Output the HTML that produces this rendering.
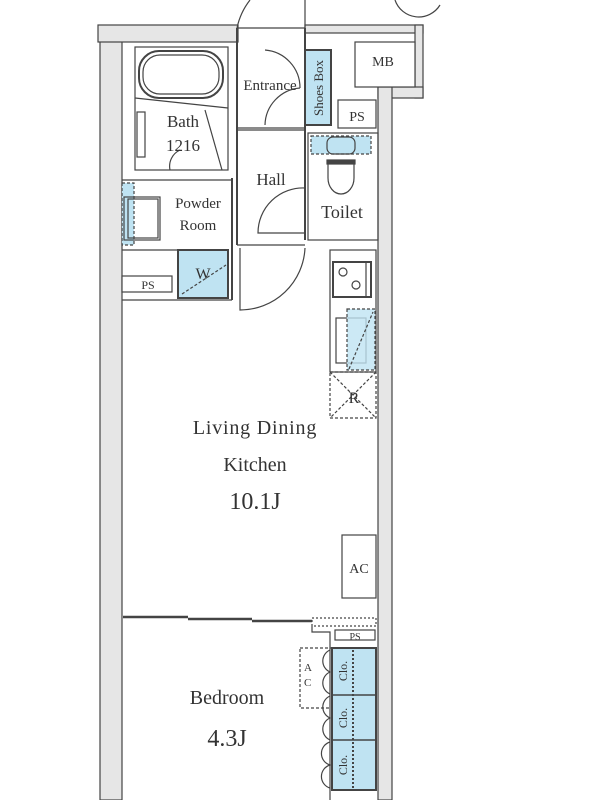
<!DOCTYPE html>
<html><head><meta charset="utf-8"><style>
html,body{margin:0;padding:0;background:#fff;}
svg{display:block;}
text{font-family:"Liberation Serif",serif;fill:#333;}
</style></head><body>
<svg width="600" height="800" viewBox="0 0 600 800" xmlns="http://www.w3.org/2000/svg">
<g stroke="#444" stroke-width="1.2" fill="none">
<rect x="100" y="40" width="22" height="760" fill="#e6e6e6"/>
<rect x="98" y="25" width="140" height="17" fill="#e6e6e6"/>
<rect x="305" y="25" width="118" height="8" fill="#e6e6e6"/>
<rect x="415" y="25" width="8" height="73" fill="#e6e6e6"/>
<rect x="378" y="87" width="45" height="11" fill="#e6e6e6"/>
<rect x="378" y="87" width="14" height="713" fill="#e6e6e6"/>
<line x1="237" y1="28" x2="305" y2="28"/>
<path d="M237,28 A68,68 0 0 1 250,0"/>
<line x1="305" y1="0" x2="305" y2="28"/>
<path d="M395,0 A25,25 0 0 0 440,5"/>
<rect x="355" y="42" width="60" height="45" fill="#fff"/>
<rect x="135" y="47" width="93" height="123"/>
<rect x="139" y="51" width="84" height="47" rx="20" stroke-width="2"/>
<rect x="143" y="55" width="76" height="39" rx="17"/>
<line x1="135" y1="98" x2="228" y2="108"/>
<rect x="137" y="112" width="8" height="45"/>
<line x1="237" y1="28" x2="237" y2="245" stroke-width="2"/>
<line x1="232" y1="178" x2="232" y2="300" stroke-width="2"/>
<line x1="305" y1="28" x2="305" y2="240" stroke-width="2"/>
<line x1="237" y1="128" x2="305" y2="128"/>
<line x1="237" y1="130" x2="305" y2="130"/>
<line x1="237" y1="245" x2="305" y2="245"/>
<line x1="122" y1="180" x2="232" y2="180"/>
<line x1="122" y1="250" x2="178" y2="250"/>
<line x1="122" y1="300" x2="232" y2="300"/>
<path d="M265,50 A38,38 0 0 1 300,88 M265,125 A38,38 0 0 1 300,88"/>
<path d="M170,170 A18,18 0 0 1 180,150 M222,170 L205,110"/>
<path d="M305,188 A45,45 0 0 0 258,233 L305,233"/>
<path d="M305,248 A65,65 0 0 1 240,310 L240,248"/>
<rect x="305" y="50" width="26" height="75" fill="#bfe3f2" stroke-width="2"/>
<rect x="338" y="100" width="38" height="28"/>
<rect x="308" y="133" width="70" height="107"/>
<rect x="311" y="136" width="60" height="18" fill="#bfe3f2" stroke-dasharray="3,2"/>
<rect x="327" y="137" width="28" height="17" rx="6"/>
<rect x="327" y="160" width="28" height="4" fill="#444"/>
<path d="M328,164 L328,178 A13,16 0 0 0 354,178 L354,164"/>
<rect x="122" y="183" width="12" height="62" fill="#bfe3f2" stroke-dasharray="3,2"/>
<rect x="124" y="197" width="36" height="43"/>
<rect x="128" y="199" width="30" height="39"/>
<rect x="178" y="250" width="50" height="48" fill="#bfe3f2" stroke-width="2"/>
<line x1="182" y1="294" x2="226" y2="265" stroke-dasharray="3,2"/>
<rect x="122" y="276" width="50" height="16" fill="#fff"/>
<rect x="330" y="250" width="46" height="122"/>
<rect x="333" y="262" width="38" height="35" stroke-width="2"/>
<line x1="366" y1="262" x2="366" y2="297"/>
<circle cx="343" cy="272" r="4"/><circle cx="356" cy="285" r="4"/>
<rect x="336" y="318" width="30" height="45"/>
<rect x="347" y="309" width="28" height="61" fill="#bfe3f2" fill-opacity="0.8" stroke-dasharray="3,2"/>
<line x1="349" y1="369" x2="373" y2="312" stroke-dasharray="3,2"/>
<rect x="330" y="372" width="46" height="46" stroke-dasharray="3,2"/>
<line x1="330" y1="372" x2="376" y2="418" stroke-dasharray="3,2"/>
<line x1="376" y1="372" x2="330" y2="418" stroke-dasharray="3,2"/>
<rect x="342" y="535" width="34" height="63" fill="#fff"/>
<path d="M123,617 L188,617 M188,619 L252,619 M252,621 L312,621" stroke-width="2.5"/>
<rect x="312" y="618" width="64" height="8" stroke-dasharray="2,2"/>
<path d="M312,626 L312,632 L330,632 L330,800"/>
<rect x="335" y="630" width="40" height="10"/>
<rect x="332" y="648" width="44" height="142" fill="#bfe3f2" stroke-width="2"/>
<line x1="332" y1="695" x2="376" y2="695" stroke-width="1.5"/>
<line x1="332" y1="740" x2="376" y2="740" stroke-width="1.5"/>
<line x1="353" y1="650" x2="353" y2="788" stroke-dasharray="2,2" stroke-width="2"/>
<rect x="300" y="648" width="32" height="60" stroke-dasharray="3,2"/>
<path d="M330,650 A12,12 0 0 0 330,672 A12,12 0 0 0 330,694 M330,696 A12,12 0 0 0 330,718 A12,12 0 0 0 330,740 M330,742 A12,12 0 0 0 330,765 A12,12 0 0 0 330,788"/>
</g>
<g font-size="14">
<text x="383" y="66" text-anchor="middle">MB</text>
<text x="270" y="90" text-anchor="middle" font-size="15">Entrance</text>
<text x="357" y="121" text-anchor="middle">PS</text>
<text x="183" y="127" text-anchor="middle" font-size="17">Bath</text>
<text x="183" y="151" text-anchor="middle" font-size="17">1216</text>
<text x="271" y="185" text-anchor="middle" font-size="17">Hall</text>
<text x="342" y="218" text-anchor="middle" font-size="18">Toilet</text>
<text x="198" y="208" text-anchor="middle" font-size="15">Powder</text>
<text x="198" y="230" text-anchor="middle" font-size="15">Room</text>
<text x="203" y="279" text-anchor="middle" font-size="16">W</text>
<text x="148" y="289" text-anchor="middle" font-size="12">PS</text>
<text x="354" y="403" text-anchor="middle" font-size="16">R</text>
<text x="359" y="573" text-anchor="middle">AC</text>
<text x="355" y="640" text-anchor="middle" font-size="10">PS</text>
<text x="255" y="434" text-anchor="middle" font-size="20" letter-spacing="0.8">Living Dining</text>
<text x="255" y="471" text-anchor="middle" font-size="20">Kitchen</text>
<text x="255" y="509" text-anchor="middle" font-size="24">10.1J</text>
<text x="227" y="704" text-anchor="middle" font-size="20">Bedroom</text>
<text x="227" y="746" text-anchor="middle" font-size="24">4.3J</text>
<text transform="translate(323,88) rotate(-90)" text-anchor="middle" font-size="13">Shoes Box</text>
<text transform="translate(347,671) rotate(-90)" text-anchor="middle" font-size="12">Clo.</text>
<text transform="translate(347,718) rotate(-90)" text-anchor="middle" font-size="12">Clo.</text>
<text transform="translate(347,765) rotate(-90)" text-anchor="middle" font-size="12">Clo.</text>
<text x="304" y="671" font-size="11">A</text>
<text x="304" y="686" font-size="11">C</text>
</g>
</svg>
</body></html>
